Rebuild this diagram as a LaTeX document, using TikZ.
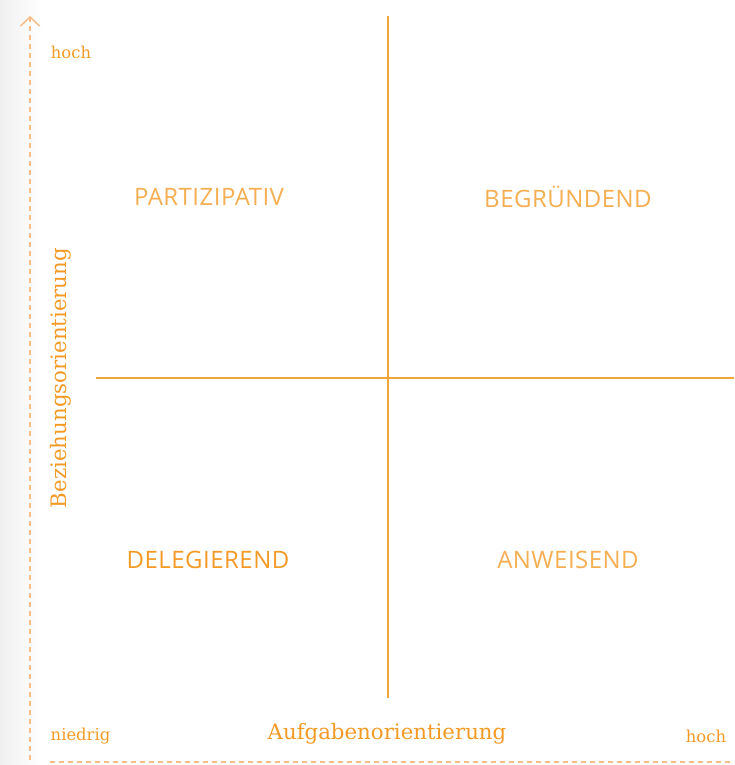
\documentclass[tikz,border=0pt]{standalone}
\usepackage{fontspec}
\setmainfont{DejaVu Serif}
\newfontfamily\quadfont[LetterSpace=2]{Open Sans}
\usetikzlibrary{arrows.meta}
\definecolor{gridorange}{HTML}{F2A538}
\definecolor{textorange}{HTML}{F39A25}
\definecolor{dashorange}{HTML}{F8BD86}
\tikzset{
  quadlabel/.style={font=\quadfont\fontsize{24}{24}\selectfont,text=textorange!80},
  axisname/.style={font=\fontsize{21.3}{21.3}\selectfont,text=textorange},
  scalelabel/.style={font=\fontsize{16.4}{16.4}\selectfont,text=textorange},
  dashaxis/.style={dashorange,line width=1.3pt,dash pattern=on 5pt off 4pt},
}
\begin{document}
\begin{tikzpicture}[x=1pt,y=-1pt,line join=round]
			\useasboundingbox (0,0) rectangle (734,765);
			\shade[left color=black!6,right color=white] (0,0) rectangle (42,765);
			% axes
			\coordinate (ybottom) at (30,760);
			\coordinate (ytop) at (30,16);
			\coordinate (xleft) at (50,762);
			\coordinate (xright) at (734,762);
			\draw[dashaxis,-{Straight Barb[length=9pt,width=19pt,line width=1.5pt]}] (ybottom) -- (ytop);
			\draw[dashaxis] (xleft) -- (xright);
			% quadrant lines
			\coordinate (vtop) at (388,16);
			\coordinate (vbottom) at (388,698);
			\coordinate (hleft) at (96,378);
			\coordinate (hright) at (734,378);
			\draw[gridorange,line width=1.3pt] (vtop) -- (vbottom);
			\draw[gridorange,line width=1.3pt] (hleft) -- (hright);
			% labels
			\node[scalelabel] (yhigh) at (71,52) {hoch};
			\node[scalelabel] (xlow) at (80.5,736) {niedrig};
			\node[scalelabel] (xhigh) at (706,736) {hoch};
			\node[axisname] (xname) at (387,734) {Aufgabenorientierung};
			\node[axisname,rotate=90] (yname) at (61,378) {Beziehungsorientierung};
			\node[quadlabel] (partizipativ) at (209,197) {PARTIZIPATIV};
			\node[quadlabel] (begruendend) at (568,197) {BEGRÜNDEND};
			\node[quadlabel,text=textorange] (delegierend) at (208,560) {DELEGIEREND};
			\node[quadlabel] (anweisend) at (568,560) {ANWEISEND};
		\end{tikzpicture}
\end{document}
